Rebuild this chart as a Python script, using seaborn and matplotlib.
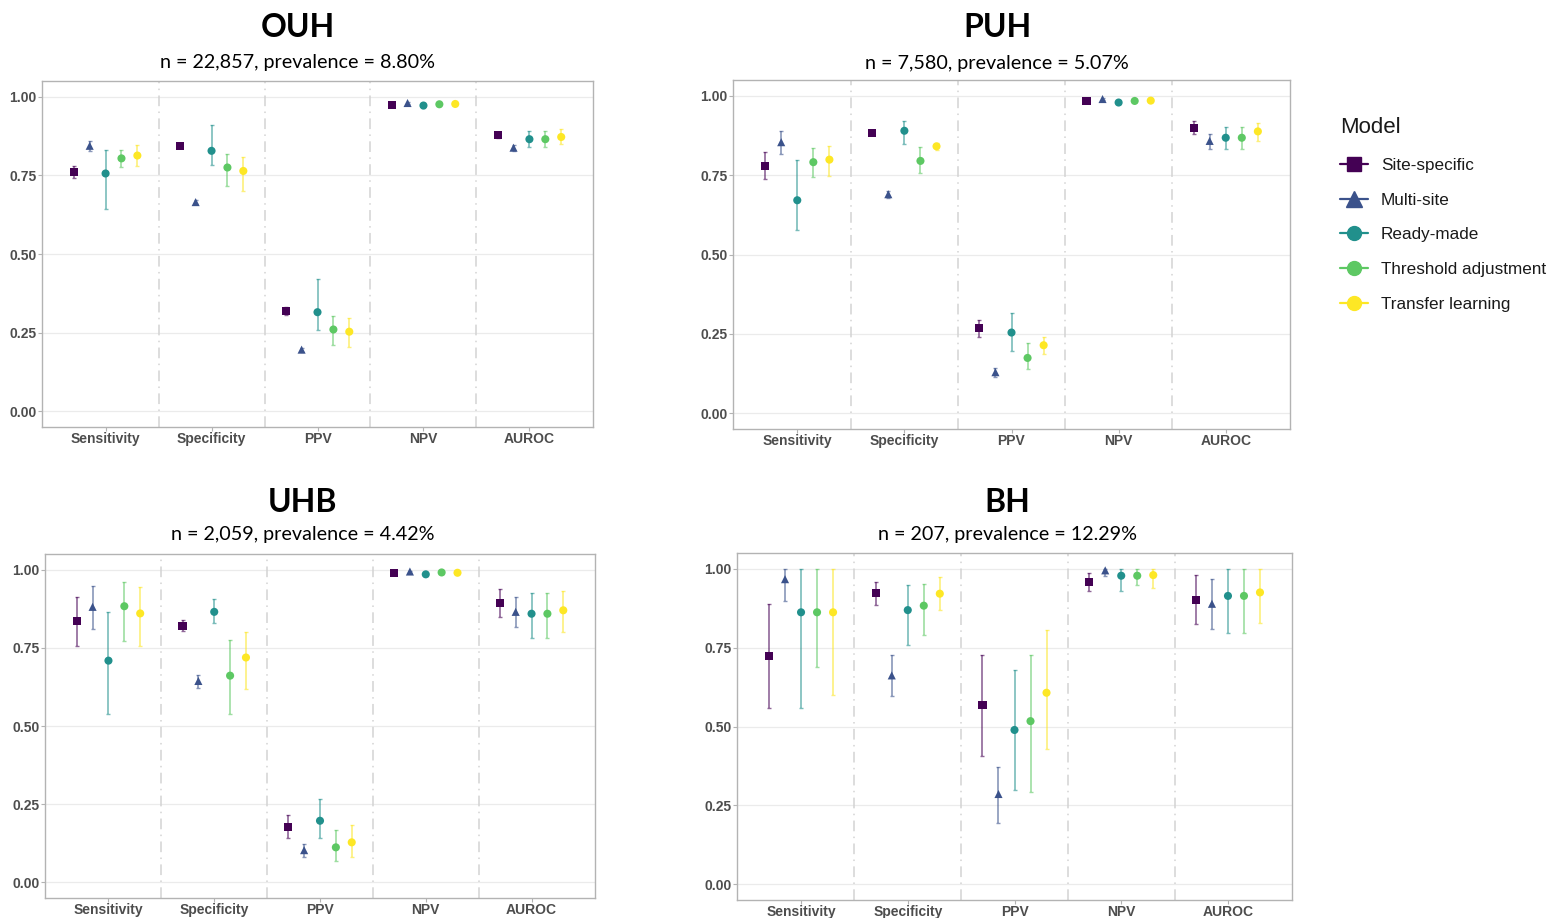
import numpy as np
import pandas as pd
import matplotlib
matplotlib.use("Agg")
import matplotlib.pyplot as plt
from matplotlib.lines import Line2D
import seaborn as sns

metrics = ["Sensitivity", "Specificity", "PPV", "NPV", "AUROC"]
models = ["Site-specific", "Multi-site", "Ready-made", "Threshold adjustment", "Transfer learning"]
y_ticks = [0.0, 0.25, 0.5, 0.75, 1.0]
y_tick_labels = ["0.00", "0.25", "0.50", "0.75", "1.00"]

sites = ["OUH", "PUH", "UHB", "BH"]
subtitles = ["n = 22,857, prevalence = 8.80%", "n = 7,580, prevalence = 5.07%",
             "n = 2,059, prevalence = 4.42%", "n = 207, prevalence = 12.29%"]

# rows = metrics, columns = models
ouh_est = [[0.761, 0.844, 0.756, 0.804, 0.813],
           [0.843, 0.665, 0.828, 0.775, 0.764],
           [0.320, 0.196, 0.315, 0.260, 0.253],
           [0.973, 0.980, 0.972, 0.976, 0.977],
           [0.878, 0.838, 0.865, 0.865, 0.872]]
ouh_lo = [[0.742, 0.827, 0.642, 0.775, 0.779],
          [0.836, 0.659, 0.783, 0.717, 0.701],
          [0.305, 0.190, 0.257, 0.211, 0.205],
          [0.969, 0.976, 0.965, 0.972, 0.973],
          [0.870, 0.826, 0.841, 0.841, 0.849]]
ouh_hi = [[0.780, 0.859, 0.831, 0.830, 0.845],
          [0.850, 0.671, 0.909, 0.817, 0.807],
          [0.332, 0.202, 0.420, 0.304, 0.295],
          [0.977, 0.984, 0.979, 0.980, 0.981],
          [0.887, 0.846, 0.890, 0.890, 0.896]]

puh_est = [[0.779, 0.854, 0.671, 0.791, 0.799],
           [0.884, 0.690, 0.890, 0.795, 0.841],
           [0.268, 0.129, 0.254, 0.174, 0.214],
           [0.985, 0.990, 0.979, 0.984, 0.985],
           [0.900, 0.858, 0.868, 0.868, 0.888]]
puh_lo = [[0.738, 0.817, 0.578, 0.743, 0.748],
          [0.878, 0.678, 0.848, 0.758, 0.828],
          [0.239, 0.113, 0.197, 0.138, 0.186],
          [0.982, 0.987, 0.975, 0.981, 0.982],
          [0.879, 0.832, 0.834, 0.834, 0.859]]
puh_hi = [[0.822, 0.888, 0.797, 0.835, 0.842],
          [0.890, 0.701, 0.922, 0.840, 0.851],
          [0.294, 0.141, 0.316, 0.222, 0.239],
          [0.988, 0.993, 0.983, 0.987, 0.988],
          [0.922, 0.881, 0.903, 0.903, 0.913]]

uhb_est = [[0.835, 0.881, 0.709, 0.883, 0.860],
           [0.821, 0.644, 0.865, 0.661, 0.719],
           [0.178, 0.103, 0.197, 0.112, 0.128],
           [0.990, 0.994, 0.985, 0.991, 0.990],
           [0.893, 0.865, 0.859, 0.859, 0.870]]
uhb_lo = [[0.757, 0.811, 0.539, 0.771, 0.757],
          [0.803, 0.621, 0.830, 0.539, 0.619],
          [0.141, 0.081, 0.143, 0.067, 0.081],
          [0.986, 0.990, 0.980, 0.987, 0.986],
          [0.848, 0.815, 0.782, 0.782, 0.801]]
uhb_hi = [[0.911, 0.947, 0.865, 0.962, 0.946],
          [0.839, 0.663, 0.906, 0.774, 0.800],
          [0.214, 0.122, 0.265, 0.166, 0.182],
          [0.994, 0.997, 0.990, 0.995, 0.994],
          [0.937, 0.912, 0.924, 0.924, 0.931]]

bh_est = [[0.723, 0.967, 0.862, 0.862, 0.862],
          [0.923, 0.662, 0.869, 0.883, 0.921],
          [0.567, 0.286, 0.489, 0.517, 0.607],
          [0.959, 0.995, 0.978, 0.978, 0.980],
          [0.902, 0.889, 0.914, 0.914, 0.925]]
bh_lo = [[0.560, 0.897, 0.560, 0.689, 0.601],
         [0.885, 0.596, 0.757, 0.790, 0.868],
         [0.407, 0.195, 0.299, 0.292, 0.430],
         [0.931, 0.978, 0.930, 0.948, 0.939],
         [0.825, 0.808, 0.797, 0.797, 0.828]]
bh_hi = [[0.888, 1.000, 1.000, 1.000, 1.000],
         [0.959, 0.726, 0.948, 0.951, 0.974],
         [0.726, 0.373, 0.680, 0.728, 0.807],
         [0.986, 1.000, 1.000, 1.000, 1.000],
         [0.979, 0.968, 1.000, 1.000, 1.000]]

site_data = {
    "OUH": (ouh_est, ouh_lo, ouh_hi),
    "PUH": (puh_est, puh_lo, puh_hi),
    "UHB": (uhb_est, uhb_lo, uhb_hi),
    "BH": (bh_est, bh_lo, bh_hi),
}

# viridis end to end, as ggplot's scale_colour_viridis_d
palette = sns.color_palette(["#440154", "#3B528B", "#21908C", "#5DC863", "#FDE725"])
marker_map = dict(zip(models, ["s", "^", "o", "o", "o"]))
color_map = dict(zip(models, palette))

sns.set_theme(style="white")
plt.rcParams["font.family"] = ["Liberation Sans", "DejaVu Sans"]

W, H = 1550, 918
fig = plt.figure(figsize=(W / 100, H / 100), dpi=100)

# panel boxes in pixels: left, top, right, bottom
boxes = [(42, 81, 593, 427), (733, 80, 1290, 429),
         (45, 554, 595, 898), (737, 553, 1292, 900)]
title_pos = [(298, 37, 68), (997, 37, 69), (303, 512, 540), (1007, 512, 540)]

dodge = np.linspace(-0.3, 0.3, len(models))


def make_frame(site):
    est, lo, hi = site_data[site]
    rows = []
    for i, m in enumerate(metrics):
        for j, mod in enumerate(models):
            rows.append({"metric": m, "Model": mod, "x": i + dodge[j],
                         "est": est[i][j], "lo": lo[i][j], "hi": hi[i][j]})
    return pd.DataFrame(rows)


for k, site in enumerate(sites):
    l, t, r, b = boxes[k]
    ax = fig.add_axes([l / W, 1 - b / H, (r - l) / W, (b - t) / H])
    df = make_frame(site)

    for y in y_ticks:
        ax.axhline(y, color="#EBEBEB", lw=0.9, zorder=0)
    for xs in np.arange(0.5, len(metrics) - 1, 1.0):
        ax.axvline(xs, color="#D3D3D3", lw=1.1, ls=(0, (7, 3.5, 1, 3.5)), zorder=0)

    for mod in models:
        sub = df[df["Model"] == mod]
        ax.errorbar(sub["x"], sub["est"],
                    yerr=[sub["est"] - sub["lo"], sub["hi"] - sub["est"]],
                    fmt="none", ecolor=color_map[mod], elinewidth=1.2,
                    capsize=1.2, capthick=1.0, alpha=0.6, zorder=2)

    sns.scatterplot(data=df, x="x", y="est", hue="Model", style="Model",
                    palette=color_map, markers=marker_map, hue_order=models,
                    style_order=models, s=34, linewidth=0, legend=False,
                    ax=ax, zorder=3)

    ax.set_xlim(-0.6, len(metrics) - 0.4)
    ax.set_ylim(-0.05, 1.05)
    ax.set_xticks(range(len(metrics)))
    ax.set_xticklabels(metrics)
    ax.set_yticks(y_ticks)
    ax.set_yticklabels(y_tick_labels)
    ax.set_xlabel("")
    ax.set_ylabel("")
    ax.tick_params(axis="both", length=3, width=0.8, color="#B3B3B3", pad=1,
                   labelsize=10, labelcolor="#4D4D4D", bottom=True, left=True)
    ax.tick_params(axis="x", pad=0.5)
    for lab in ax.get_xticklabels() + ax.get_yticklabels():
        lab.set_fontweight("bold")
    for sp in ax.spines.values():
        sp.set_color("#B3B3B3")
        sp.set_linewidth(1.0)

    cx, ty, sy = title_pos[k]
    fig.text(cx / W, 1 - ty / H, site, ha="center", va="baseline", color="black",
             fontsize=23, fontweight="bold", family=["Lato", "DejaVu Sans"])
    fig.text(cx / W, 1 - sy / H, subtitles[k], ha="center", va="baseline",
             color="black", fontsize=14.2, family=["Lato", "DejaVu Sans"])

handles = [Line2D([0], [0], color=color_map[m], marker=marker_map[m],
                  markersize=10 if marker_map[m] != "^" else 11.5, lw=1.6)
           for m in models]
leg = fig.legend(handles, models, loc="upper left", title="Model",
                 bbox_to_anchor=(1325 / W, 1 - 102 / H), frameon=False,
                 fontsize=12.3, title_fontsize=16, handlelength=1.6,
                 handletextpad=0.78, labelspacing=1.15, alignment="left")
leg.get_title().set_color("#1A1A1A")
for txt in leg.get_texts():
    txt.set_color("#1A1A1A")

fig.savefig("out.png", dpi=100, facecolor="white")
